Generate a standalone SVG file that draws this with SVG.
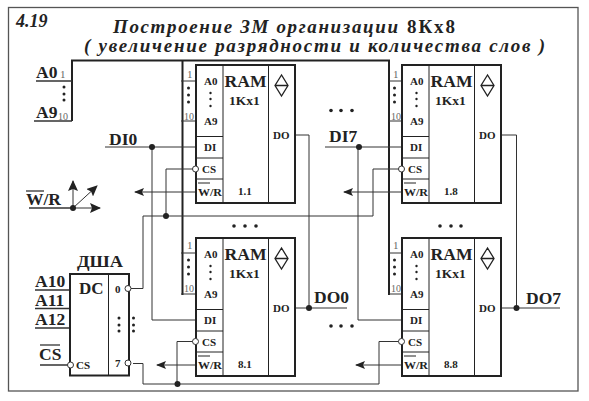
<svg xmlns="http://www.w3.org/2000/svg" width="589" height="401" viewBox="0 0 589 401">
<style>
text{font-family:"Liberation Serif","Times New Roman",serif;font-weight:bold;fill:#222}
.t{font-style:italic;font-size:19px}
.sig{font-size:17.500px}
.pin{font-size:11px}
.big{font-size:17px}
.mid{font-size:13.500px}
.num{font-size:11px;font-weight:normal;fill:#666}
.box{fill:#fff;stroke:#222;stroke-width:2}
.div{stroke:#222;stroke-width:1;fill:none}
.w{stroke:#333;stroke-width:1;fill:none}
.sigline{stroke:#333;stroke-width:1.300;fill:none}
.bus{stroke:#222;stroke-width:2;fill:none}
.dot{fill:#222}
.inv{fill:#fff;stroke:#333;stroke-width:1}
</style>
<defs>
<marker id="a" markerWidth="10" markerHeight="8" refX="9" refY="4" orient="auto" markerUnits="userSpaceOnUse"><path d="M0 0 L10 4 L0 8 L2 4Z" fill="#222"/></marker>
<marker id="b" markerWidth="11" markerHeight="10" refX="10" refY="5" orient="auto" markerUnits="userSpaceOnUse"><path d="M0 0 L11 5 L0 10 L2 5Z" fill="#222"/></marker>
<g id="ram">
<rect class="box" x="0" y="0" width="99" height="138"/>
<path class="div" d="M27 0V138M72.500 0V138M0 71.500H27M0 93H27M0 114H27M2 118H14"/>
<text class="pin" x="8" y="20">A0</text>
<circle class="dot" cx="14.500" cy="28" r="1.200"/><circle class="dot" cx="14.500" cy="34" r="1.200"/><circle class="dot" cx="14.500" cy="41" r="1.200"/>
<text class="pin" x="8" y="60">A9</text>
<text class="pin" x="8" y="86">DI</text>
<text class="pin" x="6" y="108">CS</text>
<text class="pin" x="2" y="131" textLength="24" lengthAdjust="spacingAndGlyphs">W/R</text>
<text class="big" x="28.500" y="22" textLength="42" lengthAdjust="spacingAndGlyphs">RAM</text>
<text class="mid" x="33" y="40">1Kx1</text>
<path d="M85.500 10L79 20.500L85.500 31L92 20.500ZM79 20.500H92" fill="none" stroke="#222" stroke-width="1.300"/>
<text class="pin" x="77" y="74">DO</text>
</g>
</defs>
<rect width="589" height="401" fill="#fff"/>
<rect x="8.500" y="7.500" width="569.500" height="383.500" fill="none" stroke="#555" stroke-width="1.300"/>
<text x="16" y="27" style="font-size:18px;font-style:italic">4.19</text>
<text class="t" x="113" y="33" textLength="285" lengthAdjust="spacing">Построение ЗМ организации</text>
<text x="407" y="33" style="font-size:19px" textLength="48">8Кх8</text>
<text class="t" x="84" y="52" textLength="461" lengthAdjust="spacing">( увеличение разрядности и количества слов )</text>

<g id="connectors">
<path class="bus" d="M72 121V60.500H389V295M182.500 60.500V295"/>
<path class="sigline" d="M36 81H72M34 121H72"/>
<path class="w" d="M181 81H196M181 121H196M181 253H196M181 294H196M389 81H402M389 121H402M389 253H402M389 294H402"/>
<path class="w" d="M105 147H196M152 147V320H196M325 147H402M358 147V320H402"/>
<path class="w" d="M195 169H166V216M143 288.500V216H373V169H402M128 288.500H143"/>
<path class="w" d="M195 341.500H177V384M133 363.500H143V384H379V341.500H402"/>
<path class="w" d="M294 135H309V308M294 308H347M501 135H516.500V308M501 308H560"/>
<path class="w" marker-end="url(#a)" d="M196 192H135"/>
<path class="w" marker-end="url(#a)" d="M402 192H344"/>
<path class="w" marker-end="url(#a)" d="M196 365H157"/>
<path class="w" marker-end="url(#a)" d="M402 365H356"/>
<path class="sigline" d="M35 290H70M35 308.500H70M35 328H70M40 365H68"/>
<path class="sigline" d="M29 208H73"/>
<path class="w" stroke-width="1.500" marker-end="url(#b)" d="M73 208V181"/>
<path class="w" stroke-width="1.500" marker-end="url(#b)" d="M73 208L97 186"/>
<path class="w" stroke-width="1.500" marker-end="url(#b)" d="M73 208H100"/>
<circle class="dot" cx="152" cy="147" r="3"/><circle class="dot" cx="359" cy="147" r="3"/>
<circle class="dot" cx="166" cy="216" r="3"/><circle class="dot" cx="177.500" cy="384" r="3"/>
<circle class="dot" cx="309" cy="308" r="3"/><circle class="dot" cx="516.500" cy="308" r="3"/>
<circle class="dot" cx="73" cy="208" r="3"/>
</g>

<g id="ram11" transform="translate(196 65)"><use href="#ram"/><text class="pin" x="42" y="130">1.1</text></g>
<g id="ram18" transform="translate(402 65)"><use href="#ram"/><text class="pin" x="42" y="130">1.8</text></g>
<g id="ram81" transform="translate(196 238)"><use href="#ram"/><text class="pin" x="42" y="130">8.1</text></g>
<g id="ram88" transform="translate(402 238)"><use href="#ram"/><text class="pin" x="42" y="130">8.8</text></g>
<g id="inv"><circle class="inv" cx="195.500" cy="169" r="3"/><circle class="inv" cx="401.500" cy="169" r="3"/><circle class="inv" cx="195.500" cy="341.500" r="3"/><circle class="inv" cx="401.500" cy="341.500" r="3"/></g>

<g id="dc">
<rect class="box" x="70" y="274" width="59" height="101.500"/>
<path class="div" d="M108.500 274V375.500"/>
<text x="79" y="294" style="font-size:17px">DC</text>
<text class="pin" x="115" y="293">0</text>
<text class="pin" x="115" y="367">7</text>
<text class="pin" x="76" y="369">CS</text>
<text class="big" x="77" y="267" textLength="46" lengthAdjust="spacingAndGlyphs">ДША</text>
<g class="dot"><circle cx="119" cy="318" r="1.500"/><circle cx="119" cy="325" r="1.500"/><circle cx="119" cy="331" r="1.500"/><circle cx="133.500" cy="318" r="1.500"/><circle cx="133.500" cy="325" r="1.500"/><circle cx="133.500" cy="331" r="1.500"/></g>
<circle class="inv" cx="70.500" cy="365" r="3"/><circle class="inv" cx="128" cy="288.500" r="3"/><circle class="inv" cx="128" cy="363" r="3"/>
</g>

<g id="labels">
<text class="sig" x="36" y="78">A0</text><text class="sig" x="36" y="118">A9</text>
<text class="num" x="60" y="78">1</text><text class="num" x="58" y="120" textLength="10" lengthAdjust="spacingAndGlyphs">10</text>
<g class="dot"><circle cx="64" cy="87" r="1.500"/><circle cx="64" cy="94" r="1.500"/><circle cx="64" cy="100" r="1.500"/></g>
<text class="num" x="187" y="78">1</text><text class="num" x="184" y="120" textLength="10" lengthAdjust="spacingAndGlyphs">10</text>
<g class="dot"><circle cx="188.500" cy="88" r="1.500"/><circle cx="188.500" cy="95" r="1.500"/><circle cx="188.500" cy="102" r="1.500"/></g>
<text class="num" x="393" y="78">1</text><text class="num" x="391" y="120" textLength="10" lengthAdjust="spacingAndGlyphs">10</text>
<g class="dot"><circle cx="394.500" cy="88" r="1.500"/><circle cx="394.500" cy="95" r="1.500"/><circle cx="394.500" cy="102" r="1.500"/></g>
<text class="num" x="187" y="249">1</text><text class="num" x="184" y="292" textLength="10" lengthAdjust="spacingAndGlyphs">10</text>
<g class="dot"><circle cx="188.500" cy="260" r="1.500"/><circle cx="188.500" cy="267" r="1.500"/><circle cx="188.500" cy="274" r="1.500"/></g>
<text class="num" x="393" y="249">1</text><text class="num" x="391" y="292" textLength="10" lengthAdjust="spacingAndGlyphs">10</text>
<g class="dot"><circle cx="394.500" cy="260" r="1.500"/><circle cx="394.500" cy="267" r="1.500"/><circle cx="394.500" cy="274" r="1.500"/></g>
<text class="sig" x="109" y="145">DI0</text><text class="sig" x="329" y="142">DI7</text>
<text class="sig" x="314" y="303">DO0</text><text class="sig" x="526" y="304">DO7</text>
<text class="sig" x="35" y="287">A10</text><text class="sig" x="35" y="306">A11</text><text class="sig" x="35" y="325">A12</text>
<text class="sig" x="39" y="360">CS</text><path class="sigline" d="M40 345H60"/>
<text class="sig" x="26" y="205" textLength="35" lengthAdjust="spacingAndGlyphs">W/R</text><path class="sigline" d="M26 191H44"/>
<g class="dot"><circle cx="331" cy="110.500" r="1.800"/><circle cx="341" cy="110.500" r="1.800"/><circle cx="352" cy="110.500" r="1.800"/><circle cx="331" cy="326" r="1.800"/><circle cx="341" cy="326" r="1.800"/><circle cx="352" cy="326" r="1.800"/><circle cx="234" cy="226" r="1.800"/><circle cx="245" cy="226" r="1.800"/><circle cx="256" cy="226" r="1.800"/><circle cx="440" cy="226" r="1.800"/><circle cx="451" cy="226" r="1.800"/><circle cx="461" cy="226" r="1.800"/></g>
</g>
</svg>
